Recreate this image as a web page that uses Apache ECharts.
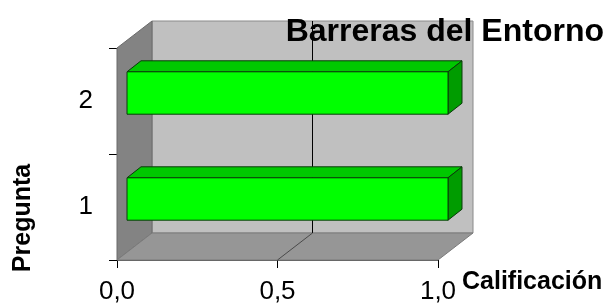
<!DOCTYPE html>
<html>
<head>
<meta charset="utf-8">
<script src="https://cdn.jsdelivr.net/npm/echarts@6/dist/echarts.min.js"></script>
<style>
  html, body { margin: 0; padding: 0; background: #fff; }
  #main { width: 611px; height: 305px; }
</style>
</head>
<body>
<div id="main"></div>
<script>
var categories = ['1', '2'];
var values = [1, 1];
var xTicks = [0, 0.5, 1];

var FONT = '"Liberation Sans", Arial, sans-serif';
// depth of the 3d box and of the bars, in pixels
var DX = 35, DY = -27;
var BX0 = 10, BY0 = -8, BX1 = 24, BY1 = -19;

function fmt(v) {
  return v.toFixed(1).replace('.', ',');
}

function wallsItem(params, api) {
  var band = api.size([0, 1])[1];
  var x0 = api.coord([xTicks[0], 0])[0];
  var x1 = api.coord([xTicks[xTicks.length - 1], 0])[0];
  var yb = api.coord([0, 0])[1] + band / 2;
  var yt = api.coord([0, categories.length - 1])[1] - band / 2;
  var kids = [
    { type: 'polygon', shape: { points: [[x0 + DX, yt + DY], [x1 + DX, yt + DY], [x1 + DX, yb + DY], [x0 + DX, yb + DY]] },
      style: { fill: '#c0c0c0', stroke: '#8a8a8a', lineWidth: 1 } },
    { type: 'polygon', shape: { points: [[x0, yt], [x0 + DX, yt + DY], [x0 + DX, yb + DY], [x0, yb]] },
      style: { fill: '#838383', stroke: '#6a6a6a', lineWidth: 1 } },
    { type: 'polygon', shape: { points: [[x0, yb], [x0 + DX, yb + DY], [x1 + DX, yb + DY], [x1, yb]] },
      style: { fill: '#969696', stroke: '#7a7a7a', lineWidth: 1 } }
  ];
  for (var i = 1; i < xTicks.length - 1; i++) {
    var x = api.coord([xTicks[i], 0])[0];
    kids.push({ type: 'line', shape: { x1: x + DX, y1: yt + DY, x2: x + DX, y2: yb + DY }, style: { stroke: '#000', lineWidth: 1 } });
    kids.push({ type: 'line', shape: { x1: x + DX, y1: yb + DY, x2: x, y2: yb }, style: { stroke: '#4a4a4a', lineWidth: 1 } });
  }
  return { type: 'group', children: kids };
}

function barItem(params, api) {
  var idx = api.value(1);
  var band = api.size([0, 1])[1];
  var h = band * 0.4;
  var c0 = api.coord([0, idx]);
  var c1 = api.coord([api.value(0), idx]);
  var fx0 = c0[0] + BX0, fx1 = c1[0] + BX0;
  var ft = c0[1] + BY0 - h / 2, fb = c0[1] + BY0 + h / 2;
  var ddx = BX1 - BX0, ddy = BY1 - BY0;
  var st = { stroke: '#0a3a0a', lineWidth: 1 };
  return {
    type: 'group',
    children: [
      { type: 'polygon', shape: { points: [[fx0, ft], [fx1, ft], [fx1 + ddx, ft + ddy], [fx0 + ddx, ft + ddy]] },
        style: Object.assign({ fill: '#00c800' }, st) },
      { type: 'polygon', shape: { points: [[fx1, ft], [fx1 + ddx, ft + ddy], [fx1 + ddx, fb + ddy], [fx1, fb]] },
        style: Object.assign({ fill: '#009c00' }, st) },
      { type: 'rect', shape: { x: fx0, y: ft, width: fx1 - fx0, height: fb - ft },
        style: Object.assign({ fill: '#00ff00' }, st) }
    ]
  };
}

var myChart = echarts.init(document.getElementById('main'));

var option = {
  animation: false,
  textStyle: { fontFamily: FONT },
  title: {
    text: 'Barreras del Entorno',
    right: 7,
    top: 16,
    padding: 0,
    textStyle: { fontFamily: FONT, fontSize: 32, fontWeight: 'bold', color: '#000' }
  },
  grid: { left: 117, right: 173, top: 48, bottom: 45, containLabel: false },
  xAxis: {
    type: 'value',
    min: 0,
    max: 1,
    interval: 0.5,
    splitLine: { show: false },
    axisLine: { show: true, lineStyle: { color: '#555', width: 1 } },
    axisTick: { show: true, length: 8, lineStyle: { color: '#000' } },
    axisLabel: { formatter: fmt, fontSize: 26, color: '#000', margin: 19, fontFamily: FONT }
  },
  yAxis: {
    type: 'category',
    data: categories,
    axisLine: { show: true, lineStyle: { color: '#555', width: 1 } },
    axisTick: { show: true, length: 8, lineStyle: { color: '#000' } },
    axisLabel: { fontSize: 26, color: '#000', margin: 24, fontFamily: FONT }
  },
  graphic: [
    { type: 'text', x: 23, y: 218, rotation: Math.PI / 2,
      style: { text: 'Pregunta', font: 'bold 25px ' + FONT, fill: '#000', align: 'center', verticalAlign: 'middle' } },
    { type: 'text', x: 462, y: 282,
      style: { text: 'Calificación', font: 'bold 25px ' + FONT, fill: '#000', align: 'left', verticalAlign: 'middle' } }
  ],
  series: [
    { type: 'custom', name: 'walls', silent: true, z: 1, data: [[0, 0]], renderItem: wallsItem },
    { type: 'custom', name: 'Barreras', z: 2,
      data: values.map(function (v, i) { return [v, i]; }),
      renderItem: barItem }
  ]
};
myChart.setOption(option);
</script>
</body>
</html>
